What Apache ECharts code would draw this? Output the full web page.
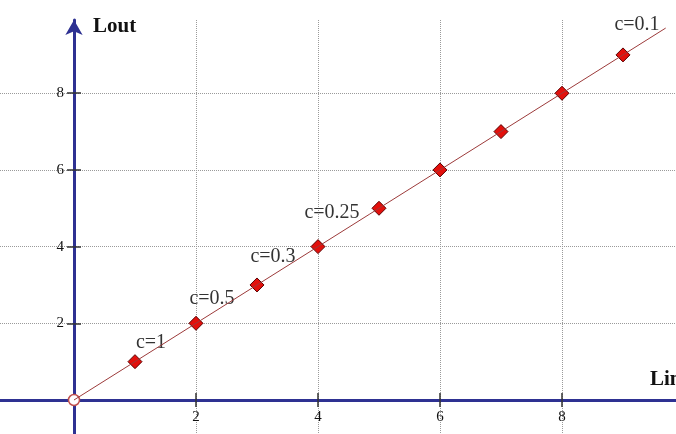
<!DOCTYPE html>
<html>
<head>
<meta charset="utf-8">
<script src="https://cdn.jsdelivr.net/npm/echarts@6/dist/echarts.min.js"></script>
<style>
  html, body { margin: 0; padding: 0; background: #fff; }
  #chart { width: 676px; height: 434px; }
</style>
</head>
<body>
<div id="chart"></div>
<script>
  // points
  var pointX = [0, 1, 2, 3, 4, 5, 6, 7, 8, 9]
  var pointY = [0, 1, 2, 3, 4, 5, 6, 7, 8, 9]
  var pointLabels = ['', 'c=1', 'c=0.5', 'c=0.3', 'c=0.25', '', '', '', '', 'c=0.1']
  // the straight line runs a bit past the last point
  var lineX = [0, 9.7]
  var lineY = [0, 9.7]
  var tickValues = [2, 4, 6, 8]

  var serif = 'Liberation Serif'
  var axisBlue = '#2e3192'
  var labelOffsets = [[0, 0], [16, -19], [16, -25], [16, -28], [14, -34], [0, 0], [0, 0], [0, 0], [0, 0], [14, -30]]

  var points = pointX.map(function (x, i) {
    var item = {
      value: [x, pointY[i]],
      label: { show: pointLabels[i] !== '', formatter: pointLabels[i], offset: labelOffsets[i] }
    }
    if (i === 0) {
      item.symbol = 'circle'
      item.symbolSize = 11
      item.itemStyle = { color: '#fff', borderColor: '#c0504d', borderWidth: 1.5 }
    }
    return item
  })
  var line = lineX.map(function (x, i) { return [x, lineY[i]] })

  function mainAxis (min, max, withArrow, label) {
    return {
      type: 'value',
      min: min,
      max: max,
      axisLine: {
        onZero: true,
        symbol: withArrow ? ['none', 'arrow'] : 'none',
        symbolSize: [13, 15],
        lineStyle: { color: axisBlue, width: 3 }
      },
      axisTick: { customValues: tickValues, length: 7, lineStyle: { color: '#333', width: 1.5 } },
      // labels sit on the grid edge, so they are pushed inside to reach the zero lines
      axisLabel: Object.assign({ customValues: tickValues, inside: true, fontFamily: serif, fontSize: 15, color: '#111' }, label),
      splitLine: { show: true, lineStyle: { type: 'dotted', color: '#9a9a9a', width: 1 } }
    }
  }
  // second axis pair only draws the other half of each tick mark
  function tickAxis (min, max, position) {
    return {
      type: 'value',
      position: position,
      min: min,
      max: max,
      axisLine: { show: false, onZero: true },
      axisTick: { customValues: tickValues, length: 7, lineStyle: { color: '#333', width: 1.5 } },
      axisLabel: { show: false },
      splitLine: { show: false }
    }
  }

  var myChart = echarts.init(document.getElementById('chart'))
  myChart.setOption({
    animation: false,
    grid: { left: 0, right: 0, top: 20, bottom: 0, containLabel: false, outerBoundsMode: 'none' },
    xAxis: [mainAxis(-1.213, 9.869, false, { margin: 9 }), tickAxis(-1.213, 9.869, 'top')],
    yAxis: [mainAxis(-0.887, 9.91, true, { margin: 64, align: 'right' }), tickAxis(-0.887, 9.91, 'right')],
    graphic: [
      { type: 'text', x: 93, y: 27, style: { text: 'Lout', font: 'bold 21px "Liberation Serif"', fill: '#111', verticalAlign: 'middle' } },
      { type: 'text', x: 650, y: 380, style: { text: 'Lin', font: 'bold 21px "Liberation Serif"', fill: '#111', verticalAlign: 'middle' } }
    ],
    series: [{
      type: 'line',
      data: line,
      showSymbol: false,
      lineStyle: { color: '#9c3a3a', width: 1 },
      silent: true
    }, {
      type: 'scatter',
      data: points,
      symbol: 'diamond',
      symbolSize: 14,
      itemStyle: { color: '#e3100c', borderColor: '#5a0000', borderWidth: 1, opacity: 1 },
      label: { position: 'inside', fontFamily: serif, fontSize: 20, color: '#333' }
    }]
  })
</script>
</body>
</html>
